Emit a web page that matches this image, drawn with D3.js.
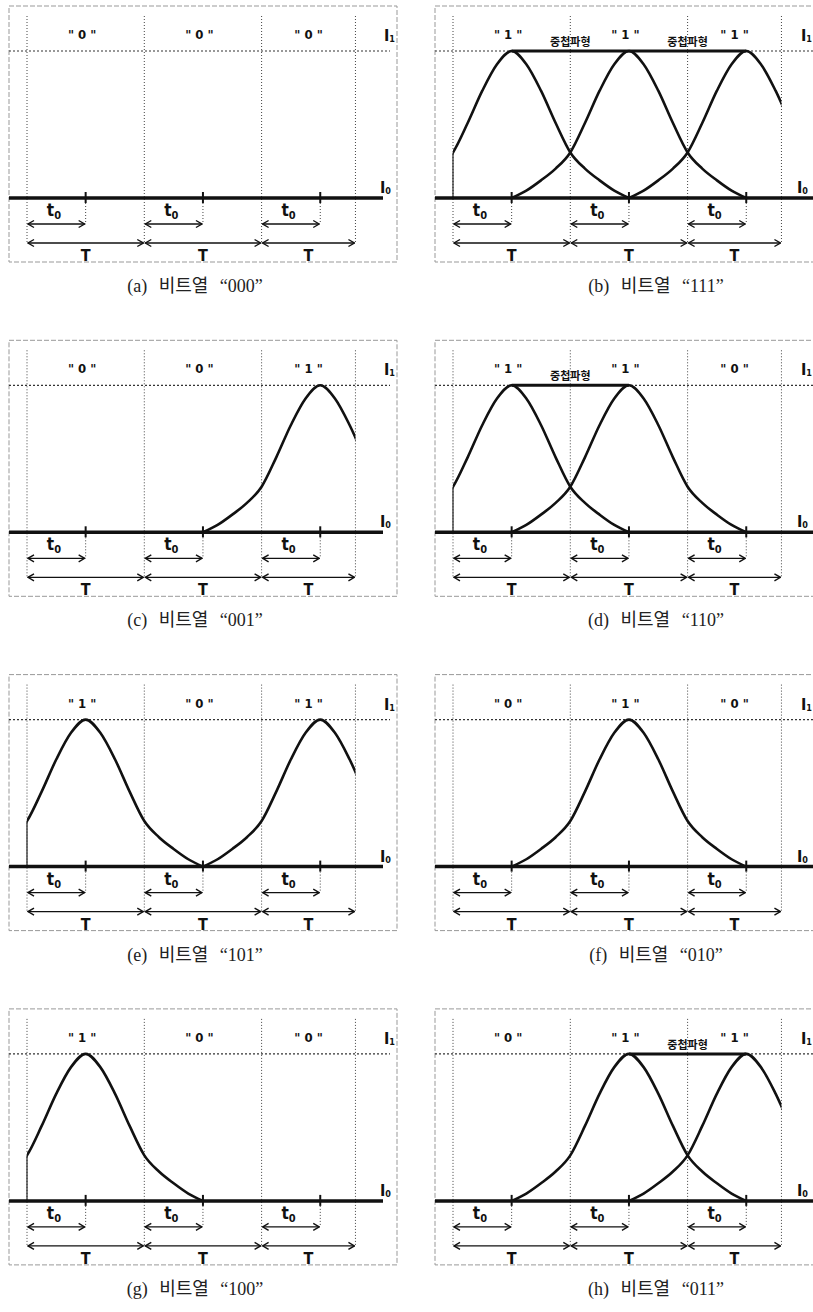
<!DOCTYPE html>
<html lang="ko">
<head>
<meta charset="utf-8">
<title>비트열 파형</title>
<script src="https://cdn.jsdelivr.net/npm/d3@7"></script>
<style>
  body { margin: 0; background: #fff; }
  svg { display: block; }
  .lbl { font-family: 'Liberation Sans Narrow', 'DejaVu Sans Condensed', 'Noto Sans CJK KR', sans-serif; font-weight: bold; fill: #111; }
  .cap { font-family: 'Liberation Serif', 'Noto Sans CJK KR', serif; font-size: 18px; fill: #222; word-spacing: 7px; }
</style>
</head>
<body>
<script>
// panels, left to right, top to bottom
var panelIds = ["a", "b", "c", "d", "e", "f", "g", "h"];
var bitStrings = ["000", "111", "001", "110", "101", "010", "100", "011"];

// one pulse: offset from its peak (in T) and level (I0 = 0, I1 = 1)
var pulseOffset = [-1, -0.875, -0.75, -0.625, -0.5, -0.375, -0.25, -0.125, 0, 0.125, 0.25, 0.375, 0.5, 0.625, 0.75, 0.875, 1];
var pulseLevel  = [0, 0.05, 0.12, 0.2, 0.31, 0.51, 0.73, 0.91, 1, 0.91, 0.73, 0.51, 0.31, 0.2, 0.12, 0.05, 0];

// text
var captionWord = "비트열";
var overlapLabel = "중첩파형";
var periodLabel = "T";
var delayLabel = ["t", "0"];
var levelLabels = [["I", "1"], ["I", "0"]];

var w = 813, h = 1312;
var colShift = 426, rowShift = 334.3;
var tEnd = 2.8;          // window stops a bit before the third period ends
var bitLabelPos = [0.47, 1.47, 2.4];

// one scale pair, every panel group is translated
var x = d3.scaleLinear().domain([0, 1]).range([27, 27 + 117.3]);
var y = d3.scaleLinear().domain([0, 1]).range([198, 51]);
var profile = d3.scaleLinear().domain(pulseOffset).range(pulseLevel);

var line = d3.line()
  .x(function(d) { return x(d[0]); })
  .y(function(d) { return y(d[1]); })
  .curve(d3.curveMonotoneX);

var svg = d3.select("body").append("svg")
  .attr("width", w)
  .attr("height", h);

var defs = svg.append("defs");
defs.append("marker")
  .attr("id", "arr")
  .attr("viewBox", "-8 -5 9 10")
  .attr("refX", 0).attr("refY", 0)
  .attr("markerWidth", 9).attr("markerHeight", 10)
  .attr("markerUnits", "userSpaceOnUse")
  .attr("orient", "auto-start-reverse")
  .append("path")
  .attr("d", "M-6,-3.5L0,0L-6,3.5")
  .attr("fill", "none")
  .attr("stroke", "#111")
  .attr("stroke-width", 1.4);

defs.append("clipPath").attr("id", "win")
  .append("rect")
  .attr("x", x(0)).attr("y", 0)
  .attr("width", x(tEnd) - x(0)).attr("height", 300);

panelIds.forEach(function(id, i) {
  var bits = bitStrings[i].split("");
  var col = i % 2, row = Math.floor(i / 2);
  var g = svg.append("g")
    .attr("transform", "translate(" + (col * colShift) + "," + (row * rowShift) + ")");

  // frame
  g.append("rect")
    .attr("x", 9).attr("y", 6)
    .attr("width", 388).attr("height", 256)
    .attr("fill", "none")
    .attr("stroke", "#999")
    .attr("stroke-width", 1)
    .attr("stroke-dasharray", "5,2");

  // period guides
  var guides = [0, 1, 2, tEnd];
  g.selectAll(".guide").data(guides).enter().append("line")
    .attr("x1", function(d) { return x(d); })
    .attr("x2", function(d) { return x(d); })
    .attr("y1", 16).attr("y2", 243)
    .attr("stroke", "#444")
    .attr("stroke-width", 1)
    .attr("stroke-dasharray", "1,2");

  // I1 level
  g.append("line")
    .attr("x1", 9).attr("x2", 390)
    .attr("y1", y(1)).attr("y2", y(1))
    .attr("stroke", "#333")
    .attr("stroke-width", 1.2)
    .attr("stroke-dasharray", "2,2");

  // pulses
  var pulses = g.append("g").attr("clip-path", "url(#win)");
  bits.forEach(function(b, k) {
    if (b !== "1") return;
    var pts = pulseOffset.map(function(o, j) { return [k + 0.5 + o, pulseLevel[j]]; });
    pulses.append("path")
      .attr("d", line(pts))
      .attr("fill", "none")
      .attr("stroke", "#111")
      .attr("stroke-width", 2.6);
  });

  // pulse cut at the left edge
  if (bits[0] === "1") {
    g.append("line")
      .attr("x1", x(0)).attr("x2", x(0))
      .attr("y1", y(0)).attr("y2", y(profile(-0.5)))
      .attr("stroke", "#222")
      .attr("stroke-width", 1.2);
  }

  // overlapping pulses hold the I1 level
  bits.forEach(function(b, k) {
    if (b === "1" && bits[k + 1] === "1") {
      g.append("line")
        .attr("x1", x(k + 0.5)).attr("x2", x(k + 1.5))
        .attr("y1", y(1)).attr("y2", y(1))
        .attr("stroke", "#111")
        .attr("stroke-width", 3);
      g.append("text")
        .attr("class", "lbl")
        .attr("x", x(k + 1)).attr("y", 46)
        .attr("text-anchor", "middle")
        .style("font-size", "11px")
        .text(overlapLabel);
    }
  });

  // I0 baseline
  g.append("line")
    .attr("x1", 9).attr("x2", col ? 388 : 383)
    .attr("y1", y(0)).attr("y2", y(0))
    .attr("stroke", "#111")
    .attr("stroke-width", 3.5);

  // ticks at t0 and their guides
  var ticks = [0.5, 1.5, 2.5];
  g.selectAll(".tk").data(ticks).enter().append("line")
    .attr("x1", function(d) { return x(d); })
    .attr("x2", function(d) { return x(d); })
    .attr("y1", y(0) - 6).attr("y2", y(0) + 5)
    .attr("stroke", "#111")
    .attr("stroke-width", 2);
  g.selectAll(".tkg").data(ticks).enter().append("line")
    .attr("x1", function(d) { return x(d); })
    .attr("x2", function(d) { return x(d); })
    .attr("y1", y(0) + 5).attr("y2", 224)
    .attr("stroke", "#444")
    .attr("stroke-width", 1)
    .attr("stroke-dasharray", "1,2");

  // bit labels
  bits.forEach(function(b, k) {
    g.append("text")
      .attr("class", "lbl")
      .attr("x", x(bitLabelPos[k])).attr("y", 39)
      .attr("text-anchor", "middle")
      .style("font-size", "13px")
      .text("\" " + b + " \"");
  });

  // t0 arrows
  [0, 1, 2].forEach(function(k) {
    g.append("line")
      .attr("x1", x(k) + 1).attr("x2", x(k + 0.5) - 1)
      .attr("y1", 224).attr("y2", 224)
      .attr("stroke", "#111")
      .attr("stroke-width", 1.3)
      .attr("marker-start", "url(#arr)")
      .attr("marker-end", "url(#arr)");
    var t = g.append("text")
      .attr("class", "lbl")
      .attr("x", x(k + 0.23)).attr("y", 216)
      .attr("text-anchor", "middle")
      .style("font-size", "17px");
    t.append("tspan").text(delayLabel[0]);
    t.append("tspan").attr("dy", 3).style("font-size", "11px").text(delayLabel[1]);
  });

  // T arrows
  [0, 1, 2].forEach(function(k) {
    var a = k, b = Math.min(k + 1, tEnd);
    g.append("line")
      .attr("x1", x(a) + 1).attr("x2", x(b) - 1)
      .attr("y1", 243).attr("y2", 243)
      .attr("stroke", "#111")
      .attr("stroke-width", 1.3)
      .attr("marker-start", "url(#arr)")
      .attr("marker-end", "url(#arr)");
    g.append("text")
      .attr("class", "lbl")
      .attr("x", x((a + b) / 2)).attr("y", 261)
      .attr("text-anchor", "middle")
      .style("font-size", "16px")
      .text(periodLabel);
  });

  // level labels (right column sits against the page edge)
  var lx = col ? -9 : 0;
  [[1, 384 + lx, 41], [0, 380 + lx, 193]].forEach(function(L, j) {
    var t = g.append("text")
      .attr("class", "lbl")
      .attr("x", L[1]).attr("y", L[2])
      .style("font-size", "16px");
    t.append("tspan").text(levelLabels[j][0]);
    t.append("tspan").attr("dy", 1).style("font-size", "9px").text(levelLabels[j][1]);
  });

  // caption
  g.append("text")
    .attr("class", "cap")
    .attr("x", col ? 230 : 195).attr("y", 292)
    .attr("text-anchor", "middle")
    .text("(" + id + ") " + captionWord + " \u201C" + bitStrings[i] + "\u201D");
});
</script>
</body>
</html>
